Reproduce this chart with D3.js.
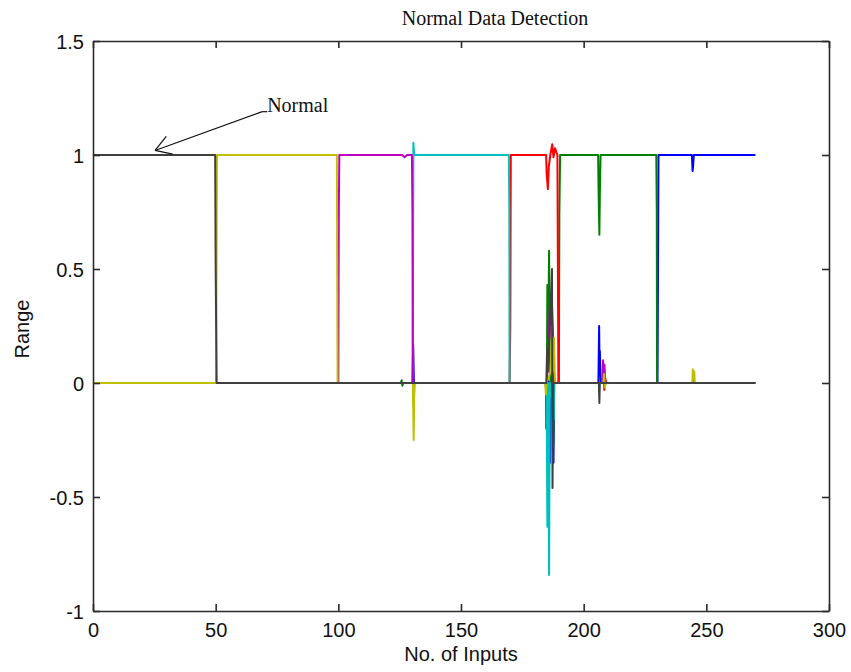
<!DOCTYPE html>
<html>
<head>
<meta charset="utf-8">
<script src="https://cdn.jsdelivr.net/npm/d3@7"></script>
<style>
  html, body { margin: 0; padding: 0; background: #fff; }
  svg { display: block; }
</style>
</head>
<body>
<svg id="chart" width="851" height="672"></svg>
<script>
// ---------- data ----------
const titleText = "Normal Data Detection";
const xLabel = "No. of Inputs";
const yLabel = "Range";
const xTicks = [0, 50, 100, 150, 200, 250, 300];
const yTicks = [-1, -0.5, 0, 0.5, 1, 1.5];
const yTickLabels = ["-1", "-0.5", "0", "0.5", "1", "1.5"];
const xDomain = [0, 300];
const yDomain = [-1, 1.5];

// series vertices [input, value], drawn in this order (later on top)
const seriesBlue = [[0,0],[130.2,0],[130.5,0.17],[130.8,0],[184.5,0],[184.7,-0.03],[184.8,-0.2],[185.1,0.02],[186,0],[186.3,-0.35],[186.6,0],[187.4,0.03],[187.6,-0.2],[187.7,-0.35],[188,0],[206,0],[206.3,0.25],[206.5,0.05],[206.6,0.14],[206.8,0.05],[207,0],[230.1,0],[230.5,1],[244.1,1],[244.4,0.93],[244.6,0.95],[244.9,1],[270,1]];
const seriesGreen = [[0,0],[125.5,0],[125.8,0.012],[126.1,-0.012],[126.4,0],[130.4,0],[130.7,-0.1],[131,0],[185,0],[185.2,0.43],[185.5,0.13],[185.9,0.58],[186.2,0.13],[186.5,0],[187.3,0.1],[187.6,-0.28],[187.9,0],[189.9,0],[190.1,0.75],[190.4,1],[205.9,1],[206.1,0.83],[206.4,0.65],[206.6,0.83],[206.9,1],[229.6,1],[229.8,0.75],[229.9,0],[270,0]];
const seriesRed = [[0,0],[169.8,0],[170.1,0.25],[170.3,1],[184.7,1],[184.9,0.92],[185.4,0.85],[185.8,0.95],[186.4,1],[187.2,1.047],[187.7,0.99],[188.3,1.03],[189.3,1],[189.6,0.25],[189.7,0],[207.8,0],[208.1,0.04],[208.4,-0.03],[208.8,0.02],[209.2,0],[244.4,0],[244.7,0.02],[245,0],[270,0]];
const seriesCyan = [[0,0],[130.3,0],[130.6,1.054],[130.9,1],[169.5,1],[169.7,0.75],[169.8,0],[184.9,0],[185.2,-0.63],[185.5,0],[185.9,-0.842],[186.2,0],[187.5,-0.1],[187.8,-0.16],[188,0],[270,0]];
const seriesMagenta = [[0,0],[100,0],[100.2,0.75],[100.4,1],[126,1],[127,0.99],[128,1],[130,1],[130.2,0.75],[130.4,0],[185,0],[185.5,0.1],[186.1,0.3],[186.4,0.37],[186.7,0.2],[187,0.37],[187.6,0.19],[187.9,0],[207.6,0],[207.9,0.1],[208.2,0.04],[208.5,0.08],[208.8,0],[270,0]];
const seriesYellow = [[0,0],[50.2,0],[50.5,1],[99.4,1],[99.7,0],[130.4,0],[130.7,-0.25],[131,0],[184.3,0],[184.6,-0.05],[184.9,0],[186.6,0.05],[187,0.25],[187.4,0.05],[187.9,0.2],[188.2,0.05],[188.5,0],[208,0],[208.3,0.04],[208.6,-0.02],[209,0],[244.3,0],[244.5,0.06],[244.8,0.02],[245.1,0.05],[245.3,0],[270,0]];
const seriesBlack = [[0,1],[49.8,1],[50,0.5],[50.4,0],[184.8,0],[185.1,0.15],[185.4,0.05],[187.1,0.5],[187.3,-0.46],[187.6,0],[206.2,0],[206.4,-0.088],[206.6,0],[270,0]];

const seriesList = [seriesBlue, seriesGreen, seriesRed, seriesCyan, seriesMagenta, seriesYellow, seriesBlack];
const seriesColors = ["#0000ff", "#008000", "#ff0000", "#00bfbf", "#bf00bf", "#bfbf00", "#404040"];

// annotation (data units)
const annText = "Normal";
const annTextPos = [71, 1.19];
const annTip = [25.3, 1.02];

// ---------- layout ----------
const L = 93, R = 829, T = 41, B = 611;
const svg = d3.select("#chart");
const x = d3.scaleLinear().domain(xDomain).range([L, R]);
const y = d3.scaleLinear().domain(yDomain).range([B, T]);
const axisColor = "#2b2b2b";
const tickFont = "'Liberation Sans', Arial, sans-serif";
const serifFont = "'Liberation Serif', 'Times New Roman', serif";

// lines
const line = d3.line().x(d => x(d[0])).y(d => y(d[1]));
const g = svg.append("g");
seriesList.forEach((s, i) => {
  g.append("path")
    .attr("d", line(s))
    .attr("fill", "none")
    .attr("stroke", seriesColors[i])
    .attr("stroke-width", 2)
    .attr("stroke-linejoin", "round");
});

// axes: box with inward ticks on all four sides
const tickLen = 7;
const axB = svg.append("g").attr("transform", `translate(0,${B})`)
  .call(d3.axisBottom(x).tickValues(xTicks).tickSizeInner(-tickLen).tickSizeOuter(0).tickPadding(13).tickFormat(d3.format("d")));
const axT = svg.append("g").attr("transform", `translate(0,${T})`)
  .call(d3.axisTop(x).tickValues(xTicks).tickSizeInner(-tickLen).tickSizeOuter(0).tickFormat(""));
const axL = svg.append("g").attr("transform", `translate(${L},0)`)
  .call(d3.axisLeft(y).tickValues(yTicks).tickSizeInner(-tickLen).tickSizeOuter(0).tickPadding(10).tickFormat((d, i) => yTickLabels[i]));
const axR = svg.append("g").attr("transform", `translate(${R},0)`)
  .call(d3.axisRight(y).tickValues(yTicks).tickSizeInner(-tickLen).tickSizeOuter(0).tickFormat(""));

[axB, axT, axL, axR].forEach(a => {
  a.select(".domain").attr("stroke", axisColor).attr("stroke-width", 1.6);
  a.selectAll(".tick line").attr("stroke", axisColor).attr("stroke-width", 1.6);
  a.selectAll(".tick text").attr("fill", "#111").style("font-family", tickFont).style("font-size", "20px");
});
axB.selectAll(".tick text").attr("dy", null).attr("y", 26);
axL.selectAll(".tick text").attr("dy", "0.35em").attr("x", -9);

// labels
svg.append("text").attr("x", (L + R) / 2).attr("y", 661)
  .attr("text-anchor", "middle").style("font-family", tickFont).style("font-size", "20px")
  .attr("fill", "#111").text(xLabel);
svg.append("text").attr("transform", `translate(29,329) rotate(-90)`)
  .attr("text-anchor", "middle").style("font-family", tickFont).style("font-size", "20px")
  .attr("fill", "#111").text(yLabel);
svg.append("text").attr("x", 495).attr("y", 25)
  .attr("text-anchor", "middle").style("font-family", serifFont).style("font-size", "20px")
  .attr("fill", "#111").text(titleText);

// annotation text arrow
const tx = x(annTextPos[0]), ty = y(annTextPos[1]);
svg.append("text").attr("x", tx).attr("y", ty)
  .style("font-family", serifFont).style("font-size", "20px").attr("fill", "#111").text(annText);
const sx = tx - 5, sy = ty;
const px = x(annTip[0]), py = y(annTip[1]);
svg.append("line").attr("x1", tx).attr("y1", ty).attr("x2", sx).attr("y2", sy)
  .attr("stroke", "#111").attr("stroke-width", 1.2);
svg.append("line").attr("x1", sx).attr("y1", sy).attr("x2", px).attr("y2", py)
  .attr("stroke", "#111").attr("stroke-width", 1.2);
const ang = Math.atan2(sy - py, sx - px);
const hl = 18, ha = 0.55;
[ang - ha, ang + ha].forEach(a => {
  svg.append("line").attr("x1", px).attr("y1", py)
    .attr("x2", px + hl * Math.cos(a)).attr("y2", py + hl * Math.sin(a))
    .attr("stroke", "#111").attr("stroke-width", 1.2);
});
</script>
</body>
</html>
